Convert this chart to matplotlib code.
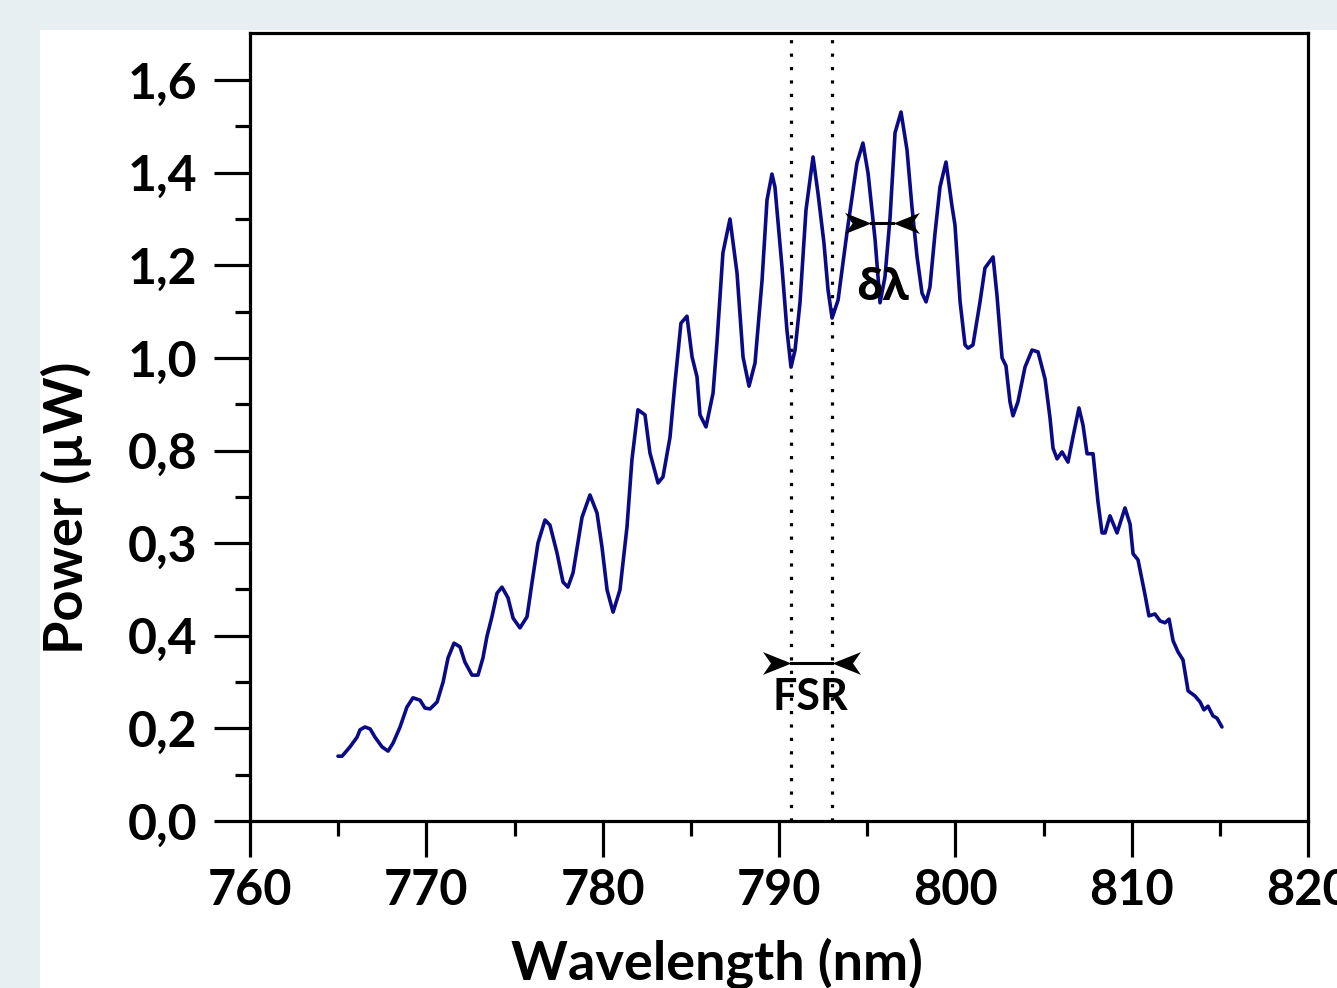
import numpy as np
import matplotlib
matplotlib.use('Agg')
import matplotlib.pyplot as plt
from matplotlib.path import Path
from matplotlib.patches import Rectangle

plt.rcParams['font.family'] = ['Lato', 'DejaVu Sans']
plt.rcParams['font.weight'] = 'bold'

# spectrum
wavelength = [764.99, 765.22, 765.67, 766.07, 766.24, 766.52, 766.81, 767.09, 767.49, 767.83,
              768.11, 768.51, 768.90, 769.24, 769.64, 769.92, 770.21, 770.61, 770.95, 771.23,
              771.57, 771.91, 772.19, 772.59, 772.93, 773.21, 773.44, 773.72, 774.01, 774.29,
              774.63, 774.92, 775.31, 775.71, 775.99, 776.33, 776.73, 777.01, 777.41, 777.75,
              778.03, 778.32, 778.83, 779.28, 779.68, 779.96, 780.25, 780.59, 780.98, 781.38,
              781.66, 782.00, 782.40, 782.68, 783.14, 783.42, 783.82, 784.10, 784.44, 784.78,
              785.07, 785.35, 785.52, 785.86, 786.26, 786.48, 786.82, 787.22, 787.62, 787.96,
              788.30, 788.64, 789.04, 789.32, 789.60, 789.77, 790.17, 790.45, 790.68, 790.91,
              791.19, 791.53, 791.93, 792.21, 792.55, 792.78, 793.01, 793.35, 793.86, 794.42,
              794.76, 795.05, 795.45, 795.73, 796.01, 796.30, 796.58, 796.92, 797.26, 797.54,
              797.83, 798.11, 798.34, 798.56, 798.85, 799.13, 799.47, 799.81, 799.98, 800.27,
              800.55, 800.72, 801.00, 801.40, 801.68, 801.85, 802.14, 802.36, 802.65, 802.87,
              803.10, 803.27, 803.55, 803.95, 804.35, 804.69, 805.09, 805.37, 805.54, 805.77,
              806.05, 806.39, 806.67, 807.01, 807.24, 807.47, 807.81, 808.09, 808.32, 808.49,
              808.77, 809.17, 809.62, 809.91, 810.08, 810.36, 810.76, 810.98, 811.32, 811.61,
              811.89, 812.12, 812.35, 812.63, 812.91, 813.20, 813.59, 813.88, 814.10, 814.33,
              814.61, 814.84, 815.12]
power = [0.140, 0.140, 0.160, 0.181, 0.197, 0.203, 0.199, 0.181, 0.160, 0.151,
         0.168, 0.203, 0.246, 0.266, 0.261, 0.244, 0.242, 0.257, 0.300, 0.352,
         0.384, 0.376, 0.343, 0.315, 0.315, 0.352, 0.399, 0.441, 0.492, 0.505,
         0.482, 0.438, 0.417, 0.441, 0.514, 0.600, 0.650, 0.639, 0.579, 0.516,
         0.505, 0.536, 0.656, 0.704, 0.665, 0.592, 0.499, 0.451, 0.499, 0.635,
         0.780, 0.888, 0.877, 0.795, 0.730, 0.743, 0.829, 0.946, 1.075, 1.090,
         1.002, 0.959, 0.877, 0.851, 0.924, 1.032, 1.227, 1.300, 1.183, 1.002,
         0.939, 0.989, 1.168, 1.341, 1.397, 1.369, 1.196, 1.060, 0.980, 1.017,
         1.119, 1.319, 1.434, 1.356, 1.248, 1.147, 1.086, 1.125, 1.272, 1.421,
         1.464, 1.399, 1.255, 1.119, 1.175, 1.304, 1.486, 1.531, 1.449, 1.326,
         1.218, 1.140, 1.121, 1.153, 1.270, 1.369, 1.423, 1.328, 1.287, 1.121,
         1.028, 1.021, 1.028, 1.121, 1.194, 1.203, 1.218, 1.136, 1.000, 0.983,
         0.905, 0.875, 0.905, 0.980, 1.017, 1.013, 0.954, 0.870, 0.805, 0.782,
         0.797, 0.775, 0.829, 0.892, 0.855, 0.793, 0.793, 0.689, 0.622, 0.622,
         0.659, 0.622, 0.676, 0.641, 0.577, 0.564, 0.488, 0.443, 0.447, 0.432,
         0.428, 0.436, 0.389, 0.365, 0.348, 0.281, 0.270, 0.257, 0.240, 0.248,
         0.227, 0.222, 0.203]

y_ticks = [0.0, 0.2, 0.4, 0.6, 0.8, 1.0, 1.2, 1.4, 1.6]
y_ticklabels = ['0,0', '0,2', '0,4', '0,3', '0,8', '1,0', '1,2', '1,4', '1,6']
x_ticks = [760, 770, 780, 790, 800, 810, 820]

# annotation positions
fsr_lines = [790.68, 793.01]
fsr_level = 0.341
dl_tips = [795.22, 796.47]
dl_level = 1.291

fig = plt.figure(figsize=(13.37, 9.88), dpi=100, facecolor='#e8eff3')
fig.patches.append(Rectangle((40 / 1337, 0), 1, 1 - 30 / 988, transform=fig.transFigure,
                             facecolor='white', edgecolor='none', zorder=-10))
ax = fig.add_axes([250 / 1337, 1 - 821 / 988, 1058 / 1337, 788 / 988])
ax.set_facecolor('white')

ax.plot(wavelength, power, color='#0a0a86', lw=2.6, zorder=3,
        solid_joinstyle='round', solid_capstyle='round')

for xv in fsr_lines:
    ax.axvline(xv, color='black', lw=2.3, linestyle=(0, (1, 3.2)), zorder=2)

# concave arrow head markers
head = Path([(0, 0), (-1, 0.4), (-0.72, 0), (-1, -0.4), (0, 0)],
            [Path.MOVETO, Path.LINETO, Path.LINETO, Path.LINETO, Path.CLOSEPOLY])
head_left = Path(head.vertices * [-1, 1], head.codes)

ax.plot(fsr_lines, [fsr_level, fsr_level], color='black', lw=2.2, zorder=4)
ax.plot([fsr_lines[0]], [fsr_level], marker=head, ms=41, color='black', mew=0, zorder=5)
ax.plot([fsr_lines[1]], [fsr_level], marker=head_left, ms=41, color='black', mew=0, zorder=5)
ax.text(791.76, 0.268, 'FSR', fontsize=31, fontweight='bold', ha='center', va='center', zorder=6)

ax.plot(dl_tips, [dl_level, dl_level], color='black', lw=2.2, zorder=4)
ax.plot([dl_tips[0]], [dl_level], marker=head, ms=38, color='black', mew=0, zorder=5)
ax.plot([dl_tips[1]], [dl_level], marker=head_left, ms=38, color='black', mew=0, zorder=5)
ax.text(795.9, 1.149, 'δλ', fontsize=31, fontweight='bold', ha='center', va='center',
        family=['Open Sans', 'DejaVu Sans'], zorder=6)

ax.set_xlim(760, 820)
ax.set_ylim(0, 1.7016)
ax.set_xticks(x_ticks)
ax.set_xticklabels([str(v) for v in x_ticks])
ax.set_xticks([765, 775, 785, 795, 805, 815], minor=True)
ax.set_yticks(y_ticks)
ax.set_yticklabels(y_ticklabels)
ax.set_yticks([0.1, 0.3, 0.5, 0.7, 0.9, 1.1, 1.3, 1.5], minor=True)

for s in ax.spines.values():
    s.set_linewidth(2.3)
ax.tick_params(which='major', direction='out', length=26, width=2.3, labelsize=35)
ax.tick_params(axis='y', which='major', labelsize=36, pad=12)
ax.tick_params(which='minor', direction='out', length=11, width=2.3)
ax.tick_params(axis='x', which='major', pad=8)

ax.set_xlabel('Wavelength (nm)', fontsize=39, fontweight='bold')
ax.set_ylabel('Power (µW)', fontsize=39, fontweight='bold')
ax.xaxis.set_label_coords(0.441, -0.147)
ax.yaxis.set_label_coords(-0.149, 0.398)

fig.savefig('out.png', dpi=100, facecolor=fig.get_facecolor())
